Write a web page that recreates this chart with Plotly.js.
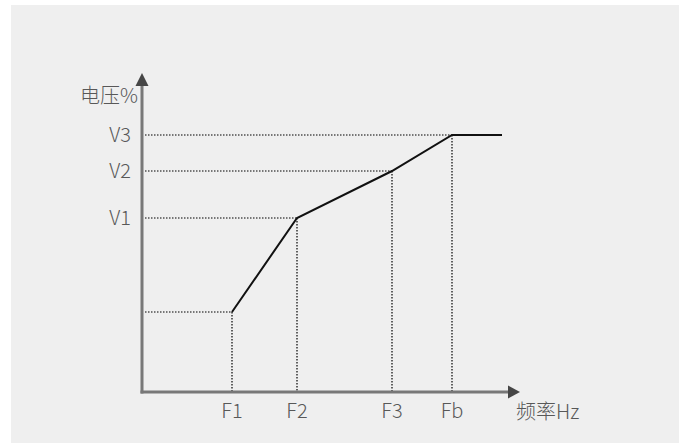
<!DOCTYPE html>
<html>
<head>
<meta charset="utf-8">
<script src="https://cdn.plot.ly/plotly-3.0.1.min.js"></script>
<style>html,body{margin:0;padding:0;background:#fff;}#chart{width:684px;height:443px;}</style>
</head>
<body>
<div id="chart"></div>
<script>
// Frequency break points (x) and voltage levels (y)
const freqLabels = ['F1', 'F2', 'F3', 'Fb'];
const freqValues = [90, 155, 250, 310];
const voltLabels = ['V1', 'V2', 'V3'];
const voltValues = [174, 221, 257];
const startVolt = 80;          // voltage at F1
// V/F curve points
const curveX = [90, 155, 250, 310, 360];
const curveY = [80, 174, 221, 257, 257];
const xTitle = '频率Hz';
const yTitle = '电压%';

const XR = [0, 378], YR = [0, 319];
const px = v => (v - XR[0]) / (XR[1] - XR[0]);
const py = v => (v - YR[0]) / (YR[1] - YR[0]);

const font = {family: '"Noto Sans CJK SC", "Noto Sans", sans-serif', size: 20, color: '#585858', weight: 300};
const dotStyle = {color: '#000', width: 1.2, dash: '1.5px,1.5px'};

const traces = [];
const kinkY = [startVolt].concat(voltValues);
const kinkX = freqValues;
kinkX.forEach((fx, i) => {
  traces.push({x: [3, fx], y: [kinkY[i], kinkY[i]], mode: 'lines', line: dotStyle, hoverinfo: 'skip'});
  traces.push({x: [fx, fx], y: [kinkY[i], 0], mode: 'lines', line: dotStyle, hoverinfo: 'skip'});
});
traces.push({x: curveX, y: curveY, mode: 'lines', line: {color: '#111', width: 2}, hoverinfo: 'skip'});

const axisGray = '#787878', arrowGray = '#464646';
const shapes = [
  {type: 'rect', xref: 'paper', yref: 'paper', x0: px(-131), x1: px(537), y0: py(-51), y1: py(387), fillcolor: '#efefef', line: {width: 0}, layer: 'below'},
  {type: 'line', xref: 'paper', yref: 'paper', x0: px(0), x1: px(0), y0: py(-1.5), y1: py(306), line: {color: axisGray, width: 3}},
  {type: 'line', xref: 'paper', yref: 'paper', x0: px(-1.5), x1: px(366), y0: py(0), y1: py(0), line: {color: axisGray, width: 3}}
];
const layout = {
  width: 684, height: 443,
  margin: {l: 142, r: 164, t: 73, b: 51, pad: 0},
  paper_bgcolor: '#ffffff', plot_bgcolor: 'rgba(0,0,0,0)',
  showlegend: false,
  font: font,
  xaxis: {range: XR, tickvals: freqValues, ticktext: freqLabels, showgrid: false, zeroline: false, showline: false,
          ticks: 'outside', ticklen: 1, tickcolor: 'rgba(0,0,0,0)', tickfont: font, fixedrange: true},
  yaxis: {range: YR, tickvals: voltValues, ticktext: voltLabels, showgrid: false, zeroline: false, showline: false,
          ticks: 'outside', ticklen: 6, tickcolor: 'rgba(0,0,0,0)', tickfont: font, fixedrange: true},
  shapes: shapes,
  annotations: [
    {text: yTitle, xref: 'paper', yref: 'paper', x: px(-33), y: py(298), xanchor: 'center', yanchor: 'middle', showarrow: false, font: font},
    {text: xTitle, xref: 'paper', yref: 'paper', x: px(405), y: py(-18), xanchor: 'center', yanchor: 'middle', showarrow: false, font: font}
  ]
};
function tri(pts) {
  return {type: 'path', xref: 'paper', yref: 'paper', fillcolor: arrowGray, line: {width: 0},
          path: 'M ' + pts.map(p => px(p[0]) + ',' + py(p[1])).join(' L ') + ' Z'};
}
layout.shapes.push(tri([[0, 319], [-6.5, 306], [6.5, 306]]));
layout.shapes.push(tri([[378, 0], [366, 6.5], [366, -6.5]]));

Plotly.newPlot('chart', traces, layout, {staticPlot: true, displayModeBar: false});
</script>
</body>
</html>
